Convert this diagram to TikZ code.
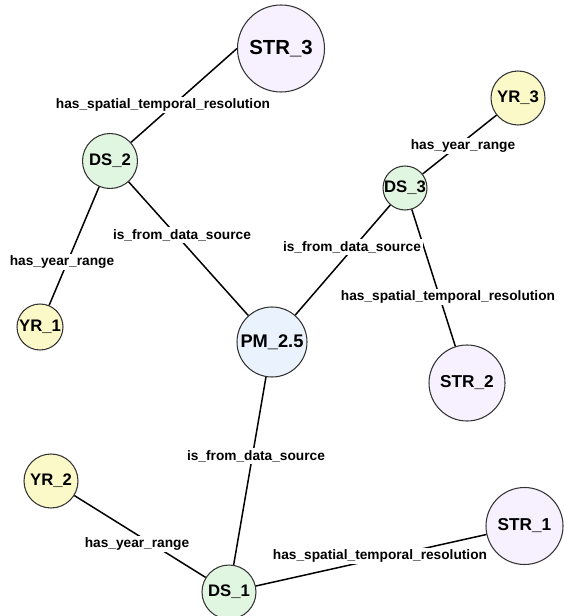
\documentclass[tikz,border=0pt]{standalone}
\usepackage{fontspec}
\setmainfont{Liberation Sans}
\usepackage{tikz}

\definecolor{rimgray}{HTML}{333333}
\definecolor{strfill}{HTML}{F7F0FF}
\definecolor{dsfill}{HTML}{E1F6E1}
\definecolor{yrfill}{HTML}{FCF9C8}
\definecolor{pmfill}{HTML}{EAF2FD}

\newcommand\entfont{\fontsize{9.5}{11}\selectfont\bfseries}
\newcommand\relfont{\fontsize{7.8}{9}\selectfont\bfseries}

\tikzset{
  ent/.style={circle, draw=rimgray, line width=0.6pt, inner sep=0pt, font=\entfont},
  strnode/.style={ent, fill=strfill, minimum size=1.52cm},
  dsnode/.style={ent, fill=dsfill, minimum size=1.08cm},
  yrnode/.style={ent, fill=yrfill, minimum size=1.08cm},
  pmnode/.style={ent, fill=pmfill, minimum size=1.4cm},
  link/.style={black, line width=0.85pt},
  rel/.style={fill=white, inner sep=1pt, font=\relfont}
}

\begin{document}
\begin{tikzpicture}[scale=0.2]

\useasboundingbox (0,0) rectangle (56.3,-61.6);
\node [strnode, minimum size=1.74cm, font=\fontsize{11.6}{13}\selectfont\bfseries] (str3) at (28.1,-4.85) {STR\_3};
\node [dsnode, minimum size=1.1cm] (ds2) at (11,-16.1) {DS\_2};
\node [yrnode] (yr3) at (51.8,-9.8) {YR\_3};
\node [dsnode, minimum size=0.88cm] (ds3) at (40.5,-18.8) {DS\_3};
\node [yrnode, minimum size=0.92cm] (yr1) at (4,-32.7) {YR\_1};
\node [pmnode, font=\fontsize{10.4}{12}\selectfont\bfseries] (pm) at (27.2,-34.2) {PM\_2.5};
\node [strnode, font=\fontsize{9.8}{11}\selectfont\bfseries] (str2) at (46.7,-38.3) {STR\_2};
\node [yrnode] (yr2) at (5.1,-48.1) {YR\_2};
\node [strnode, minimum size=1.54cm, font=\fontsize{9.8}{11}\selectfont\bfseries] (str1) at (52.45,-52.6) {STR\_1};
\node [dsnode] (ds1) at (22.9,-59.2) {DS\_1};

\draw [link] (ds2) -- (str3.west);
\draw [link] (ds2) -- (pm);
\draw [link] (ds2) -- (yr1);
\draw [link] (ds3) -- (yr3);
\draw [link] (ds3) -- (pm);
\draw [link] (ds3) -- (str2);
\draw [link] (pm) -- (ds1);
\draw [link] (yr2) -- (ds1);
\draw [link] (ds1) -- (str1);

\draw (16.3,-10.5) node [rel] (r1) {has\_spatial\_temporal\_resolution};
\draw (18.2,-23.5) node [rel] (r2) {is\_from\_data\_source};
\draw (6.2,-26.2) node [rel] (r3) {has\_year\_range};
\draw (46.3,-14.6) node [rel] (r4) {has\_year\_range};
\draw (35.2,-24.7) node [rel] (r5) {is\_from\_data\_source};
\draw (44.8,-29.7) node [rel] (r6) {has\_spatial\_temporal\_resolution};
\draw (25.6,-45.6) node [rel] (r7) {is\_from\_data\_source};
\draw (13.7,-54.4) node [rel] (r8) {has\_year\_range};
\draw (38,-55.6) node [rel] (r9) {has\_spatial\_temporal\_resolution};
\end{tikzpicture}
\end{document}
